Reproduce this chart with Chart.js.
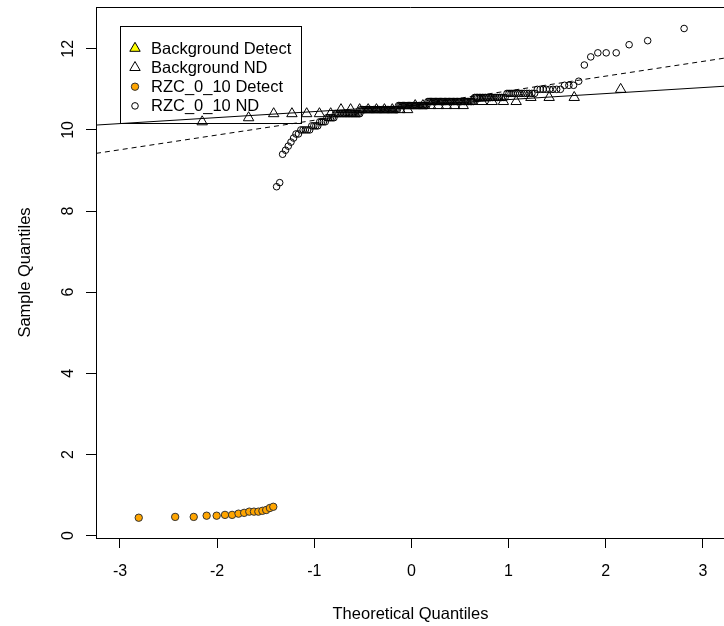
<!DOCTYPE html>
<html><head><meta charset="utf-8">
<script src="https://cdn.jsdelivr.net/npm/chart.js@4/dist/chart.umd.min.js"></script>
<style>
html,body{margin:0;padding:0;background:#fff;overflow:hidden;}
#wrap{position:relative;width:732px;height:626px;}
</style></head><body>
<div id="wrap"><canvas id="c" width="732" height="626"></canvas></div>
<script>
// ---- data ----
const seriesNames = ['Background Detect', 'Background ND', 'RZC_0_10 Detect', 'RZC_0_10 ND'];
const xTicks = [-3, -2, -1, 0, 1, 2, 3];
const yTicks = [0, 2, 4, 6, 8, 10, 12];
const xTitle = 'Theoretical Quantiles';
const yTitle = 'Sample Quantiles';

const bgDetectX = [];
const bgDetectY = [];

const bgNdX = [-2.154, -1.676, -1.418, -1.230, -1.078, -0.947, -0.831, -0.725, -0.626, -0.533, -0.445, -0.360, -0.278, -0.197, -0.118, -0.039,
  0.039, 0.118, 0.197, 0.278, 0.360, 0.445, 0.533, 0.626, 0.725, 0.831, 0.947, 1.078, 1.230, 1.418, 1.676, 2.154];
const bgNdY = [10.2, 10.3, 10.4, 10.4, 10.4, 10.4, 10.4, 10.5, 10.5, 10.5, 10.5, 10.5, 10.5, 10.5, 10.5, 10.5,
  10.6, 10.6, 10.6, 10.6, 10.6, 10.6, 10.6, 10.7, 10.7, 10.7, 10.7, 10.7, 10.8, 10.8, 10.8, 11.0];

const rzcDetectX = [-2.807, -2.432, -2.241, -2.108, -2.005, -1.919, -1.846, -1.780, -1.722, -1.669, -1.621, -1.576, -1.534, -1.495, -1.457, -1.422];
const rzcDetectY = [0.44, 0.46, 0.46, 0.49, 0.49, 0.51, 0.51, 0.54, 0.56, 0.59, 0.59, 0.59, 0.61, 0.63, 0.68, 0.71];

const rzcNdX = [
  -1.388, -1.356, -1.326, -1.296, -1.268, -1.240, -1.213, -1.188, -1.163, -1.138,
  -1.115, -1.092, -1.069, -1.047, -1.026, -1.005, -0.984, -0.964, -0.944, -0.925,
  -0.906, -0.887, -0.869, -0.851, -0.833, -0.815, -0.798, -0.781, -0.764, -0.747,
  -0.731, -0.714, -0.698, -0.682, -0.667, -0.651, -0.636, -0.620, -0.605, -0.590,
  -0.575, -0.561, -0.546, -0.532, -0.517, -0.503, -0.489, -0.475, -0.461, -0.447,
  -0.433, -0.419, -0.406, -0.392, -0.379, -0.365, -0.352, -0.339, -0.325, -0.312,
  -0.299, -0.286, -0.273, -0.260, -0.247, -0.234, -0.221, -0.208, -0.196, -0.183,
  -0.170, -0.157, -0.145, -0.132, -0.119, -0.107, -0.094, -0.082, -0.069, -0.056,
  -0.044, -0.031, -0.019, -0.006,
  0.006, 0.019, 0.031, 0.044, 0.056, 0.069, 0.082, 0.094, 0.107, 0.119,
  0.132, 0.145, 0.157, 0.170, 0.183, 0.196, 0.208, 0.221, 0.234, 0.247,
  0.260, 0.273, 0.286, 0.299, 0.312, 0.325, 0.339, 0.352, 0.365, 0.379,
  0.392, 0.406, 0.419, 0.433, 0.447, 0.461, 0.475, 0.489, 0.503, 0.517,
  0.532, 0.546, 0.561, 0.575, 0.590, 0.605, 0.620, 0.636, 0.651, 0.667,
  0.682, 0.698, 0.714, 0.731, 0.747, 0.764, 0.781, 0.798, 0.815, 0.833,
  0.851, 0.869, 0.887, 0.906, 0.925, 0.944, 0.964, 0.984, 1.005, 1.026,
  1.047, 1.069, 1.092, 1.115, 1.138, 1.163, 1.188, 1.213, 1.240, 1.268,
  1.296, 1.326, 1.356, 1.388, 1.422, 1.457, 1.495, 1.534, 1.576, 1.621,
  1.669, 1.722, 1.780, 1.846, 1.919, 2.005, 2.108, 2.241, 2.432, 2.807];
const rzcNdY = [
  8.6, 8.7, 9.4, 9.5, 9.6, 9.7, 9.8, 9.9, 9.9,
  10.0, 10.0, 10.0, 10.0, 10.0,
  10.1, 10.1, 10.1, 10.1,
  10.2, 10.2, 10.2, 10.2,
  10.3, 10.3, 10.3, 10.3, 10.3,
  10.4, 10.4, 10.4, 10.4, 10.4, 10.4, 10.4, 10.4, 10.4, 10.4, 10.4, 10.4, 10.4, 10.4, 10.4, 10.4, 10.4,
  10.5, 10.5, 10.5, 10.5, 10.5, 10.5, 10.5, 10.5, 10.5, 10.5, 10.5, 10.5, 10.5, 10.5, 10.5,
  10.5, 10.5, 10.5, 10.5, 10.5, 10.5, 10.5, 10.5, 10.5, 10.5, 10.5, 10.5, 10.5, 10.5,
  10.6, 10.6, 10.6, 10.6, 10.6, 10.6, 10.6, 10.6, 10.6, 10.6, 10.6, 10.6,
  10.6, 10.6, 10.6, 10.6, 10.6, 10.6, 10.6, 10.6, 10.6, 10.6, 10.6, 10.6,
  10.7, 10.7, 10.7, 10.7, 10.7, 10.7, 10.7, 10.7, 10.7, 10.7, 10.7, 10.7,
  10.7, 10.7, 10.7, 10.7, 10.7, 10.7, 10.7, 10.7, 10.7, 10.7, 10.7, 10.7,
  10.7, 10.7, 10.7, 10.7, 10.7, 10.7, 10.7, 10.7, 10.7, 10.7, 10.7,
  10.8, 10.8, 10.8, 10.8, 10.8, 10.8, 10.8, 10.8, 10.8, 10.8,
  10.8, 10.8, 10.8, 10.8, 10.8, 10.8, 10.8, 10.8, 10.8,
  10.9, 10.9, 10.9, 10.9, 10.9, 10.9, 10.9, 10.9, 10.9, 10.9, 10.9, 10.9, 10.9,
  11.0, 11.0, 11.0, 11.0, 11.0, 11.0, 11.0, 11.0,
  11.1, 11.1, 11.1,
  11.2, 11.6, 11.8, 11.9, 11.9, 11.9, 12.1, 12.2, 12.5];

// reference lines: [intercept, slope]
const bgLine = [10.6, 0.148];
const rzcLine = [10.6, 0.363];

const xRange = [-3.247, 3.228];
const yRange = [-0.06, 13.03];

// ---- chart ----
const FONT = "'Liberation Sans', Arial, Helvetica, sans-serif";
Chart.defaults.font.family = FONT;
Chart.defaults.color = '#000';

const pts = (xs, ys) => xs.map((x, i) => ({x: x, y: ys[i]}));
const linePts = c => xRange.map(x => ({x: x, y: c[0] + c[1] * x}));

function drawSym(ctx, d, x, y) {
  ctx.save();
  ctx.fillStyle = d.backgroundColor;
  ctx.strokeStyle = d.borderColor;
  ctx.lineWidth = d.borderWidth;
  const r = d.pointRadius;
  ctx.beginPath();
  if (d.pointStyle === 'triangle') {
    ctx.moveTo(x, y - r);
    ctx.lineTo(x + r * Math.sin(2 * Math.PI / 3), y + r / 2);
    ctx.lineTo(x - r * Math.sin(2 * Math.PI / 3), y + r / 2);
    ctx.closePath();
  } else {
    ctx.arc(x, y, r, 0, Math.PI * 2);
  }
  ctx.fill();
  ctx.stroke();
  ctx.restore();
}

const boxPlugin = {
  id: 'rbox',
  afterDraw(chart) {
    const {ctx, chartArea} = chart;
    ctx.save();
    ctx.strokeStyle = '#000';
    ctx.lineWidth = 1;
    ctx.beginPath();
    ctx.moveTo(chartArea.left, Math.round(chartArea.top) + 0.5);
    ctx.lineTo(chartArea.right, Math.round(chartArea.top) + 0.5);
    ctx.stroke();
    // legend
    const items = chart.data.datasets.filter(d => !d.showLine);
    ctx.strokeRect(120.5, 26.5, 181, 97);
    ctx.font = '16.5px ' + FONT;
    ctx.fillStyle = '#000';
    ctx.textBaseline = 'middle';
    ctx.textAlign = 'left';
    items.forEach((d, i) => {
      const y = 48.3 + i * 19.2;
      drawSym(ctx, d, 135, y);
      ctx.fillStyle = '#000';
      ctx.fillText(d.label, 151, y + 1);
    });
    ctx.restore();
  }
};

const transparent = 'rgba(0,0,0,0)';
new Chart(document.getElementById('c'), {
  type: 'scatter',
  data: {
    datasets: [
      {label: 'bgLine', data: linePts(bgLine), showLine: true, borderColor: '#000', borderWidth: 1, pointRadius: 0, fill: false},
      {label: 'rzcLine', data: linePts(rzcLine), showLine: true, borderColor: '#000', borderWidth: 1, borderDash: [5, 4], pointRadius: 0, fill: false},
      {label: seriesNames[0], data: pts(bgDetectX, bgDetectY), pointStyle: 'triangle', pointRadius: 6, backgroundColor: '#FFFF00', borderColor: '#000', borderWidth: 1},
      {label: seriesNames[1], data: pts(bgNdX, bgNdY), pointStyle: 'triangle', pointRadius: 6, backgroundColor: transparent, borderColor: '#000', borderWidth: 1},
      {label: seriesNames[2], data: pts(rzcDetectX, rzcDetectY), pointStyle: 'circle', pointRadius: 3.7, backgroundColor: '#FFA500', borderColor: '#333', borderWidth: 1},
      {label: seriesNames[3], data: pts(rzcNdX, rzcNdY), pointStyle: 'circle', pointRadius: 3.3, backgroundColor: transparent, borderColor: '#000', borderWidth: 1}
    ]
  },
  options: {
    responsive: false,
    animation: false,
    events: [],
    devicePixelRatio: 1,
    layout: {padding: {top: 6, left: 0, right: 4, bottom: 0}},
    plugins: {legend: {display: false}, tooltip: {enabled: false}},
    scales: {
      x: {
        type: 'linear', position: 'bottom', min: xRange[0], max: xRange[1],
        afterBuildTicks: s => { s.ticks = xTicks.map(v => ({value: v})); },
        afterFit: s => { s.height = 88; s.paddingLeft = 0; s.paddingRight = 0; },
        grid: {display: true, drawOnChartArea: false, drawTicks: true, tickLength: 10, color: '#000', lineWidth: 1},
        border: {display: true, color: '#000', width: 1},
        ticks: {autoSkip: false, maxRotation: 0, minRotation: 0, padding: 14, color: '#000', font: {size: 16}, callback: v => String(v)},
        title: {display: true, text: xTitle, color: '#000', font: {size: 16.5}, padding: {top: 0, bottom: 2}}
      },
      y: {
        type: 'linear', position: 'left', min: yRange[0], max: yRange[1],
        afterBuildTicks: s => { s.ticks = yTicks.map(v => ({value: v})); },
        afterFit: s => { s.width = 96; s.paddingTop = 0; s.paddingBottom = 0; },
        grid: {display: true, drawOnChartArea: false, drawTicks: true, tickLength: 10, color: '#000', lineWidth: 1},
        border: {display: true, color: '#000', width: 1},
        ticks: {autoSkip: false, minRotation: 90, maxRotation: 90, crossAlign: 'center', padding: 9, color: '#000', font: {size: 16}, callback: v => String(v)},
        title: {display: true, text: yTitle, color: '#000', font: {size: 16.5}, padding: {top: 16, bottom: 0}}
      }
    }
  },
  plugins: [boxPlugin]
});
</script>
</body></html>
